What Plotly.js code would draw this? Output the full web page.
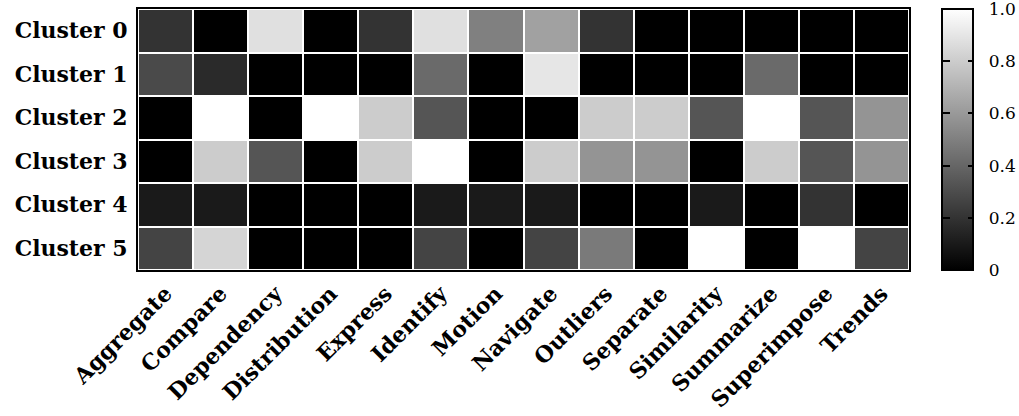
<!DOCTYPE html>
<html><head><meta charset="utf-8">
<script src="https://cdn.plot.ly/plotly-3.0.1.min.js"></script>
<style>html,body{margin:0;padding:0;background:#fff}#chart{width:1019px;height:416px}</style>
</head><body><div id="chart"></div>
<script>
var tasks = ["Aggregate","Compare","Dependency","Distribution","Express","Identify","Motion","Navigate","Outliers","Separate","Similarity","Summarize","Superimpose","Trends"];
var clusters = ["Cluster 0","Cluster 1","Cluster 2","Cluster 3","Cluster 4","Cluster 5"];
var cluster0 = [0.20,0,0.88,0,0.20,0.88,0.50,0.63,0.20,0,0,0,0,0];
var cluster1 = [0.29,0.165,0,0,0,0.415,0,0.90,0,0,0,0.415,0,0];
var cluster2 = [0,1.0,0,1.0,0.80,0.333,0,0,0.80,0.80,0.333,1.0,0.333,0.58];
var cluster3 = [0,0.80,0.333,0,0.80,1.0,0,0.80,0.58,0.58,0,0.80,0.333,0.58];
var cluster4 = [0.10,0.10,0,0,0,0.10,0.10,0.10,0,0,0.10,0,0.20,0];
var cluster5 = [0.267,0.835,0,0,0,0.267,0,0.267,0.48,0,1.0,0,1.0,0.267];
var cbTickVals = [0,0.2,0.4,0.6,0.8,1.0];
var cbTickText = ["0","0.2","0.4","0.6","0.8","1.0"];

var serif = "Georgia, 'DejaVu Serif', serif";
var cbX = 1.043;
var zData = [cluster0,cluster1,cluster2,cluster3,cluster4,cluster5];
var grey = [[0,'#000000'],[1,'#ffffff']];
var pad = '\u00a0\u00a0';

var trace = {
  type: 'heatmap',
  x: tasks, y: clusters, z: zData,
  coloraxis: 'coloraxis',
  xgap: 2, ygap: 2,
  hoverinfo: 'skip'
};
// invisible copy whose colour bar only supplies the inward ticks on the bar's left edge
var tickTrace = {
  type: 'heatmap',
  x: tasks, y: clusters, z: zData,
  coloraxis: 'coloraxis2',
  opacity: 0,
  hoverinfo: 'skip'
};
var layout = {
  width: 1019, height: 416,
  margin: {l: 138, r: 110, t: 9, b: 146, autoexpand: false},
  paper_bgcolor: '#fff', plot_bgcolor: '#fff',
  coloraxis: {
    cmin: 0, cmax: 1, colorscale: grey,
    colorbar: {
      x: cbX, xanchor: 'left', y: 0.5, yanchor: 'middle', len: 1, lenmode: 'fraction',
      thickness: 31, outlinewidth: 2, outlinecolor: '#000',
      ticks: 'inside', ticklen: 6, tickwidth: 2, tickcolor: '#000',
      tickmode: 'array', tickvals: cbTickVals, ticktext: cbTickText.map(function(t){return pad + t;}),
      tickfont: {family: serif, size: 17, color: '#000'},
      ticklabeloverflow: 'allow',
      xpad: 0, ypad: 0
    }
  },
  coloraxis2: {
    cmin: 0, cmax: 1, colorscale: [[0,'rgba(0,0,0,0)'],[1,'rgba(0,0,0,0)']],
    colorbar: {
      x: cbX, xanchor: 'left', y: 0.5, yanchor: 'middle', len: 1, lenmode: 'fraction',
      thickness: 1, outlinewidth: 0,
      ticks: 'outside', ticklen: 7, tickwidth: 2, tickcolor: '#000',
      tickmode: 'array', tickvals: cbTickVals.slice(1, -1), showticklabels: false,
      xpad: 0, ypad: 0
    }
  },
  xaxis: {
    tickangle: -45, showgrid: false, zeroline: false, ticks: '',
    tickfont: {family: serif, size: 22, color: '#000', weight: 'bold'},
    showline: true, mirror: true, linecolor: '#000', linewidth: 2
  },
  yaxis: {
    autorange: 'reversed', showgrid: false, zeroline: false, ticks: '',
    tickfont: {family: serif, size: 22, color: '#000', weight: 'bold'},
    showline: true, mirror: true, linecolor: '#000', linewidth: 2, ticklabelstandoff: 4
  }
};
Plotly.newPlot('chart', [trace, tickTrace], layout, {displayModeBar: false, staticPlot: true});
</script></body></html>
